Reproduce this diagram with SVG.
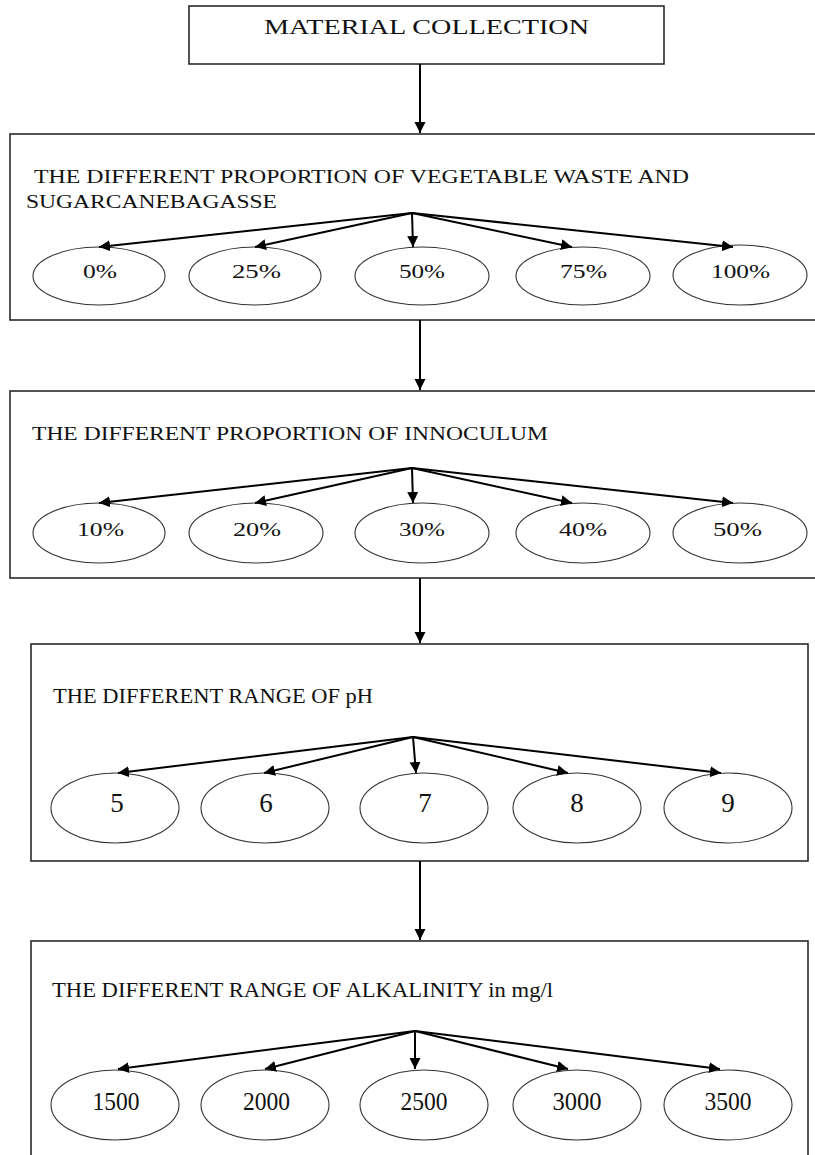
<svg xmlns="http://www.w3.org/2000/svg" width="815" height="1155" viewBox="0 0 815 1155">
<style>
.box{fill:none;stroke:#2a2a2a;stroke-width:1.6}
.ell{fill:none;stroke:#333;stroke-width:1.1}
.t{font-family:"Liberation Serif","Times New Roman",serif;fill:#111}
.lbl{text-anchor:middle}
.con line{stroke:#000;stroke-width:2;marker-end:url(#ah)}
</style>
<defs>
<marker id="ah" markerUnits="userSpaceOnUse" markerWidth="12" markerHeight="12" refX="11" refY="5.5" orient="auto">
<path d="M0,0 L11,5.5 L0,11 z" fill="#000"/>
</marker>
</defs>
<rect width="815" height="1155" fill="#fff"/>

<g id="material-collection">
<rect class="box" x="189" y="6" width="475" height="58"/>
<text class="t" x="264" y="34" font-size="21" textLength="325" lengthAdjust="spacingAndGlyphs">MATERIAL COLLECTION</text>
</g>

<g id="vegetable-waste">
<rect class="box" x="10" y="134" width="815" height="186"/>
<text class="t" x="34" y="183" font-size="18" textLength="655" lengthAdjust="spacingAndGlyphs">THE DIFFERENT PROPORTION OF VEGETABLE WASTE AND</text>
<text class="t" x="26" y="208" font-size="18" textLength="251" lengthAdjust="spacingAndGlyphs">SUGARCANEBAGASSE</text>
</g>
<g id="vw-0"><ellipse class="ell" cx="99" cy="276" rx="66" ry="29"/><text class="t lbl" x="100" y="278" font-size="19" textLength="34" lengthAdjust="spacingAndGlyphs">0%</text></g>
<g id="vw-25"><ellipse class="ell" cx="255" cy="276" rx="66" ry="29"/><text class="t lbl" x="256.5" y="278" font-size="19" textLength="49" lengthAdjust="spacingAndGlyphs">25%</text></g>
<g id="vw-50"><ellipse class="ell" cx="422" cy="276" rx="67" ry="29"/><text class="t lbl" x="422" y="278" font-size="19" textLength="46" lengthAdjust="spacingAndGlyphs">50%</text></g>
<g id="vw-75"><ellipse class="ell" cx="583" cy="276" rx="67" ry="29"/><text class="t lbl" x="583.5" y="278" font-size="19" textLength="47" lengthAdjust="spacingAndGlyphs">75%</text></g>
<g id="vw-100"><ellipse class="ell" cx="740" cy="275" rx="67" ry="30"/><text class="t lbl" x="740.5" y="278" font-size="19" textLength="59" lengthAdjust="spacingAndGlyphs">100%</text></g>

<g id="innoculum">
<rect class="box" x="10" y="391" width="815" height="187"/>
<text class="t" x="32" y="440" font-size="18" textLength="516" lengthAdjust="spacingAndGlyphs">THE DIFFERENT PROPORTION OF INNOCULUM</text>
</g>
<g id="in-10"><ellipse class="ell" cx="99" cy="533" rx="66" ry="30"/><text class="t lbl" x="100.5" y="536" font-size="19" textLength="47" lengthAdjust="spacingAndGlyphs">10%</text></g>
<g id="in-20"><ellipse class="ell" cx="256" cy="533" rx="67" ry="30"/><text class="t lbl" x="257" y="536" font-size="19" textLength="48" lengthAdjust="spacingAndGlyphs">20%</text></g>
<g id="in-30"><ellipse class="ell" cx="422" cy="533" rx="67" ry="30"/><text class="t lbl" x="422" y="536" font-size="19" textLength="46" lengthAdjust="spacingAndGlyphs">30%</text></g>
<g id="in-40"><ellipse class="ell" cx="583" cy="533" rx="67" ry="30"/><text class="t lbl" x="583" y="536" font-size="19" textLength="48" lengthAdjust="spacingAndGlyphs">40%</text></g>
<g id="in-50"><ellipse class="ell" cx="740" cy="533" rx="67" ry="30"/><text class="t lbl" x="737.5" y="536" font-size="19" textLength="49" lengthAdjust="spacingAndGlyphs">50%</text></g>

<g id="ph">
<rect class="box" x="31" y="644" width="777" height="217"/>
<text class="t" x="53" y="703" font-size="20" textLength="320" lengthAdjust="spacingAndGlyphs">THE DIFFERENT RANGE OF pH</text>
</g>
<g id="ph-5"><ellipse class="ell" cx="115" cy="808" rx="64" ry="35"/><text class="t lbl" x="117" y="812" font-size="27">5</text></g>
<g id="ph-6"><ellipse class="ell" cx="265" cy="808" rx="64" ry="35"/><text class="t lbl" x="266" y="812" font-size="27">6</text></g>
<g id="ph-7"><ellipse class="ell" cx="424" cy="808" rx="64" ry="35"/><text class="t lbl" x="425" y="812" font-size="27">7</text></g>
<g id="ph-8"><ellipse class="ell" cx="577" cy="808" rx="64" ry="35"/><text class="t lbl" x="577" y="812" font-size="27">8</text></g>
<g id="ph-9"><ellipse class="ell" cx="728" cy="808" rx="64" ry="35"/><text class="t lbl" x="728" y="812" font-size="27">9</text></g>

<g id="alkalinity">
<rect class="box" x="31" y="941" width="777" height="240"/>
<text class="t" x="52" y="997" font-size="20" textLength="501" lengthAdjust="spacingAndGlyphs">THE DIFFERENT RANGE OF ALKALINITY in mg/l</text>
</g>
<g id="al-1500"><ellipse class="ell" cx="115" cy="1105" rx="64" ry="35"/><text class="t lbl" x="116" y="1110" font-size="26" textLength="47" lengthAdjust="spacingAndGlyphs">1500</text></g>
<g id="al-2000"><ellipse class="ell" cx="265" cy="1105" rx="64" ry="35"/><text class="t lbl" x="266.5" y="1110" font-size="26" textLength="47" lengthAdjust="spacingAndGlyphs">2000</text></g>
<g id="al-2500"><ellipse class="ell" cx="424" cy="1105" rx="64" ry="35"/><text class="t lbl" x="424" y="1110" font-size="26" textLength="47" lengthAdjust="spacingAndGlyphs">2500</text></g>
<g id="al-3000"><ellipse class="ell" cx="577" cy="1105" rx="64" ry="35"/><text class="t lbl" x="577" y="1110" font-size="26" textLength="49" lengthAdjust="spacingAndGlyphs">3000</text></g>
<g id="al-3500"><ellipse class="ell" cx="728" cy="1105" rx="64" ry="35"/><text class="t lbl" x="728" y="1110" font-size="26" textLength="47" lengthAdjust="spacingAndGlyphs">3500</text></g>

<g id="connectors" class="con">
<line x1="420" y1="64" x2="420" y2="133"/>
<line x1="420" y1="320" x2="420" y2="390"/>
<line x1="420" y1="578" x2="420" y2="643"/>
<line x1="420" y1="861" x2="420" y2="940"/>

<line x1="412" y1="213" x2="99" y2="247"/>
<line x1="412" y1="213" x2="255" y2="247"/>
<line x1="412" y1="213" x2="413" y2="247"/>
<line x1="412" y1="213" x2="572" y2="247"/>
<line x1="412" y1="213" x2="733" y2="247"/>

<line x1="412" y1="468" x2="99" y2="503"/>
<line x1="412" y1="468" x2="255" y2="503"/>
<line x1="412" y1="468" x2="413" y2="503"/>
<line x1="412" y1="468" x2="572" y2="503"/>
<line x1="412" y1="468" x2="733" y2="503"/>

<line x1="413" y1="737" x2="118" y2="773"/>
<line x1="413" y1="737" x2="264" y2="773"/>
<line x1="413" y1="737" x2="416" y2="773"/>
<line x1="413" y1="737" x2="568" y2="773"/>
<line x1="413" y1="737" x2="721" y2="773"/>

<line x1="415" y1="1031" x2="118" y2="1069"/>
<line x1="415" y1="1031" x2="265" y2="1069"/>
<line x1="415" y1="1031" x2="415" y2="1069"/>
<line x1="415" y1="1031" x2="568" y2="1069"/>
<line x1="415" y1="1031" x2="720" y2="1069"/>
</g>
</svg>
